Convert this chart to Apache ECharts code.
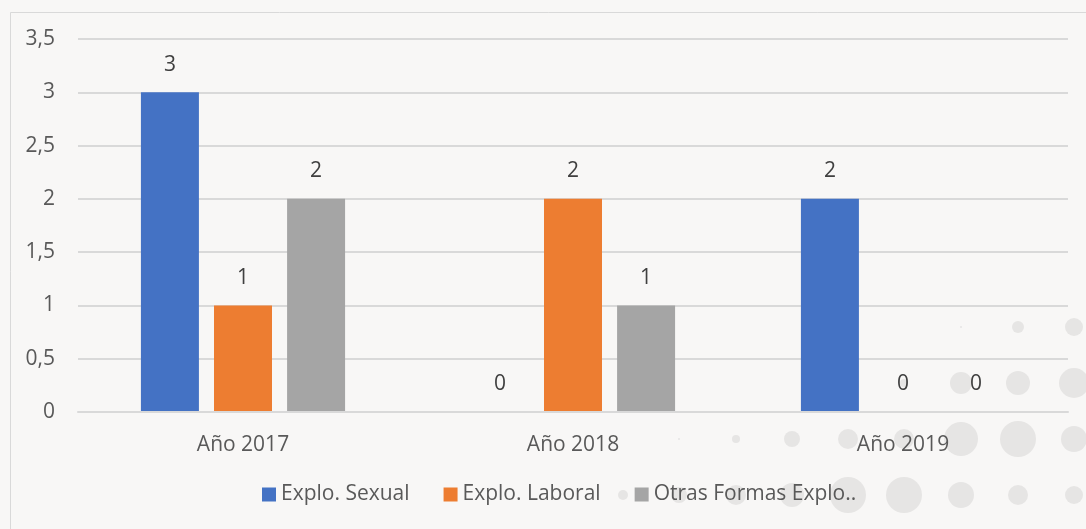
<!DOCTYPE html>
<html>
<head>
<meta charset="utf-8">
<script src="https://cdn.jsdelivr.net/npm/echarts@6/dist/echarts.min.js"></script>
<style>
  html, body { margin: 0; padding: 0; background: #f8f7f6; }
  #chart { width: 1086px; height: 529px; }
</style>
</head>
<body>
<div id="chart"></div>
<script>
  var categories = ['Año 2017', 'Año 2018', 'Año 2019'];
  var seriesNames = ['Explo. Sexual', 'Explo. Laboral', 'Otras Formas Explo..'];
  var sexual = [3, 0, 2];
  var laboral = [1, 2, 0];
  var otras = [2, 1, 0];
  var colors = ['#4472c4', '#ed7d31', '#a5a5a5'];

  // decorative dots in the background (x, y, radius)
  var dots = [
    [961, 327, 1], [1018, 327, 6], [1074, 327, 9],
    [904, 383, 4], [961, 383, 11], [1018, 383, 12], [1074, 383, 15],
    [679, 439, 1], [736, 439, 4], [792, 439, 8], [848, 439, 10], [904, 439, 10],
    [961, 439, 17], [1018, 439, 18], [1074, 439, 13],
    [623, 495, 5], [679, 495, 8], [736, 495, 10], [792, 495, 12], [848, 495, 18],
    [904, 495, 18], [961, 495, 13], [1018, 495, 10], [1074, 495, 9]
  ];

  var chart = echarts.init(document.getElementById('chart'));

  var graphics = [{
    type: 'rect',
    left: 8, top: 10,
    shape: { width: 1100, height: 600 },
    style: { fill: 'none', stroke: '#d9d9d9', lineWidth: 1 },
    z: 0
  }];
  dots.forEach(function (d) {
    graphics.push({
      type: 'circle',
      x: d[0], y: d[1],
      shape: { r: d[2] },
      style: { fill: '#e6e5e4' },
      z: 0
    });
  });

  function makeSeries(name, data, color) {
    return {
      name: name,
      type: 'bar',
      data: data,
      barWidth: 58,
      barGap: '26%',
      z: 3,
      itemStyle: { color: color },
      label: {
        show: true,
        position: 'top',
        distance: 17,
        color: '#404040',
        fontSize: 21,
        fontFamily: 'Open Sans'
      }
    };
  }

  var option = {
    backgroundColor: '#f8f7f6',
    animation: false,
    textStyle: { fontFamily: 'Open Sans' },
    graphic: graphics,
    grid: { left: 78, right: 18, top: 39, bottom: 117, containLabel: false },
    legend: {
      bottom: 19,
      left: 257,
      itemWidth: 14,
      itemHeight: 14,
      itemGap: 34,
      icon: 'rect',
      z: 4,
      textStyle: { color: '#595959', fontSize: 21, fontFamily: 'Open Sans' },
      data: seriesNames
    },
    xAxis: {
      type: 'category',
      data: categories,
      z: 4,
      axisTick: { show: false },
      axisLine: { lineStyle: { color: '#d9d9d9', width: 2 } },
      axisLabel: { color: '#595959', fontSize: 21, margin: 23 }
    },
    yAxis: {
      type: 'value',
      min: 0,
      max: 3.5,
      interval: 0.5,
      axisLine: { show: false },
      axisTick: { show: false },
      splitLine: { lineStyle: { color: '#d9d9d9', width: 2 } },
      axisLabel: {
        color: '#595959',
        fontSize: 21,
        margin: 23,
        formatter: function (v) { return String(v).replace('.', ','); }
      }
    },
    series: [
      makeSeries(seriesNames[0], sexual, colors[0]),
      makeSeries(seriesNames[1], laboral, colors[1]),
      makeSeries(seriesNames[2], otras, colors[2])
    ]
  };

  chart.setOption(option);
</script>
</body>
</html>
